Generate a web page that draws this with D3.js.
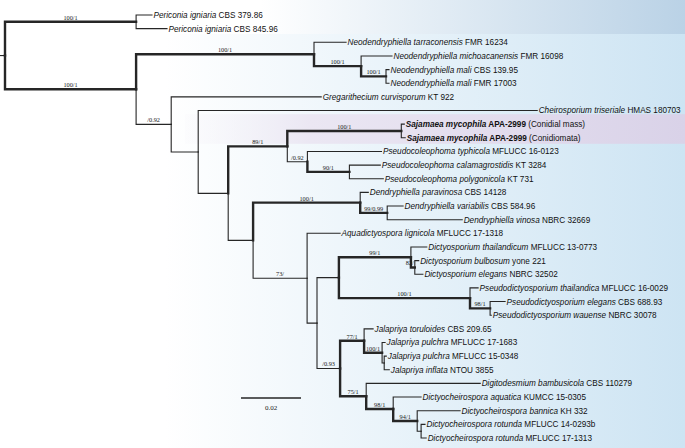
<!DOCTYPE html>
<html><head><meta charset="utf-8">
<script src="https://cdn.jsdelivr.net/npm/d3@7"></script>
<style>body{margin:0;background:#fff}svg{display:block}</style>
</head><body>
<svg id="chart" width="685" height="448"></svg>
<script>
// Topology: [id, parent, branch length (substitutions/site), support (ML/BI)]
const nodes = [
  ["root", "", 0, ""],
  ["nPer", "root", 0.0437, "100/1"],
  ["t1", "nPer", 0.0053, ""],
  ["t2", "nPer", 0.0103, ""],
  ["nMain", "root", 0.0437, "100/1"],
  ["nA", "nMain", 0.0593, "100/1"],
  ["t3", "nA", 0.0107, ""],
  ["nB", "nA", 0.0157, "100/1"],
  ["t4", "nB", 0.0103, ""],
  ["nC", "nB", 0.0083, "100/1"],
  ["t5", "nC", 0.0010, ""],
  ["t6", "nC", 0.0010, ""],
  ["nD", "nMain", 0.0117, "/0.92"],
  ["t7", "nD", 0.0500, ""],
  ["nE", "nD", 0.0090, ""],
  ["t8", "nE", 0.1130, ""],
  ["nF", "nE", 0.0100, ""],
  ["nG", "nF", 0.0197, "89/1"],
  ["nH", "nG", 0.0380, "100/1"],
  ["t9", "nH", 0.0010, ""],
  ["t10", "nH", 0.0013, ""],
  ["nI", "nG", 0.0067, "/0.92"],
  ["t11", "nI", 0.0247, ""],
  ["nJ", "nI", 0.0140, "90/1"],
  ["t12", "nJ", 0.0103, ""],
  ["t13", "nJ", 0.0113, ""],
  ["nK", "nF", 0.0083, ""],
  ["nL", "nK", 0.0357, "100/1"],
  ["t14", "nL", 0.0027, ""],
  ["nM", "nL", 0.0090, "99/0.99"],
  ["t15", "nM", 0.0053, ""],
  ["t16", "nM", 0.0250, ""],
  ["nN", "nK", 0.0180, "73/"],
  ["t17", "nN", 0.0110, ""],
  ["nO", "nN", 0.0033, ""],
  ["nP", "nO", 0.0073, ""],
  ["nQ", "nP", 0.0240, "99/1"],
  ["t18", "nQ", 0.0053, ""],
  ["nR", "nQ", 0.0013, "82/"],
  ["t19", "nR", 0.0013, ""],
  ["t20", "nR", 0.0027, ""],
  ["nS", "nP", 0.0437, "100/1"],
  ["t21", "nS", 0.0027, ""],
  ["nT", "nS", 0.0067, "98/1"],
  ["t22", "nT", 0.0050, ""],
  ["t23", "nT", 0.0004, ""],
  ["nU", "nO", 0.0077, "/0.93"],
  ["nV", "nU", 0.0080, "77/1"],
  ["t24", "nV", 0.0030, ""],
  ["nX", "nV", 0.0060, "100/1"],
  ["t25", "nX", 0.0010, ""],
  ["nY", "nX", 0.0007, ""],
  ["t26", "nY", 0.0007, ""],
  ["t27", "nY", 0.0017, ""],
  ["nW", "nU", 0.0087, "75/1"],
  ["t28", "nW", 0.0380, ""],
  ["nZ", "nW", 0.0090, "98/1"],
  ["t29", "nZ", 0.0093, ""],
  ["nAA", "nZ", 0.0080, "94/1"],
  ["t30", "nAA", 0.0143, ""],
  ["nAB", "nAA", 0.0013, ""],
  ["t31", "nAB", 0.0013, ""],
  ["t32", "nAB", 0.0017, ""]
];

// Tip labels (leaf order t1..t32)
const tipTaxa = [
  "Periconia igniaria", "Periconia igniaria",
  "Neodendryphiella tarraconensis", "Neodendryphiella michoacanensis",
  "Neodendryphiella mali", "Neodendryphiella mali",
  "Gregarithecium curvisporum", "Cheirosporium triseriale",
  "Sajamaea mycophila", "Sajamaea mycophila",
  "Pseudocoleophoma typhicola", "Pseudocoleophoma calamagrostidis",
  "Pseudocoleophoma polygonicola", "Dendryphiella paravinosa",
  "Dendryphiella variabilis", "Dendryphiella vinosa",
  "Aquadictyospora lignicola", "Dictyosporium thailandicum",
  "Dictyosporium bulbosum", "Dictyosporium elegans",
  "Pseudodictyosporium thailandica", "Pseudodictyosporium elegans",
  "Pseudodictyosporium wauense", "Jalapriya toruloides",
  "Jalapriya pulchra", "Jalapriya pulchra", "Jalapriya inflata",
  "Digitodesmium bambusicola", "Dictyocheirospora aquatica",
  "Dictyocheirospora bannica", "Dictyocheirospora rotunda",
  "Dictyocheirospora rotunda"
];
const tipStrains = [
  "CBS 379.86", "CBS 845.96", "FMR 16234", "FMR 16098", "CBS 139.95",
  "FMR 17003", "KT 922", "HMAS 180703", "APA-2999", "APA-2999",
  "MFLUCC 16-0123", "KT 3284", "KT 731", "CBS 14128", "CBS 584.96",
  "NBRC 32669", "MFLUCC 17-1318", "MFLUCC 13-0773", "yone 221",
  "NBRC 32502", "MFLUCC 16-0029", "CBS 688.93", "NBRC 30078",
  "CBS 209.65", "MFLUCC 17-1683", "MFLUCC 15-0348", "NTOU 3855",
  "CBS 110279", "KUMCC 15-0305", "KH 332", "MFLUCC 14-0293b",
  "MFLUCC 17-1313"
];
const tipNotes = ["", "", "", "", "", "", "", "", "(Conidial mass)", "(Conidiomata)",
  "", "", "", "", "", "", "", "", "", "", "", "", "", "", "", "", "", "", "", "", "", ""];
const newTaxa = ["Sajamaea mycophila"];
const scaleBarValue = 0.02;

const svg = d3.select("#chart");
const W = 685, H = 448;
const defs = svg.append("defs");

// backgrounds
const g1 = defs.append("linearGradient").attr("id", "bgTop").attr("x1", 0).attr("x2", 1).attr("y1", 0).attr("y2", 0);
g1.append("stop").attr("offset", "0%").attr("stop-color", "#ffffff");
g1.append("stop").attr("offset", "38%").attr("stop-color", "#ffffff");
g1.append("stop").attr("offset", "100%").attr("stop-color", "#bad2e6");
const g2 = defs.append("linearGradient").attr("id", "bgMain").attr("x1", 0).attr("x2", 1).attr("y1", 0).attr("y2", 0);
g2.append("stop").attr("offset", "0%").attr("stop-color", "#ffffff");
g2.append("stop").attr("offset", "24%").attr("stop-color", "#ffffff");
g2.append("stop").attr("offset", "100%").attr("stop-color", "#cde4f3");
const g3 = defs.append("linearGradient").attr("id", "bgNew").attr("x1", 0).attr("x2", 1).attr("y1", 0).attr("y2", 0);
g3.append("stop").attr("offset", "0%").attr("stop-color", "#f6f4f9").attr("stop-opacity", 0.2);
g3.append("stop").attr("offset", "25%").attr("stop-color", "#ebe7f3");
g3.append("stop").attr("offset", "100%").attr("stop-color", "#d9d2e8");

svg.append("rect").attr("x", 0).attr("y", 0).attr("width", W).attr("height", 34).attr("fill", "url(#bgTop)");
svg.append("rect").attr("x", 0).attr("y", 34).attr("width", W).attr("height", H - 34).attr("fill", "url(#bgMain)");

// hierarchy
const root = d3.stratify().id(d => d[0]).parentId(d => d[1] || null)(nodes);
root.eachBefore(n => { n.dist = n.parent ? n.parent.dist + n.data[2] : 0; });
const leaves = root.leaves();
const x = d3.scaleLinear().domain([0, scaleBarValue]).range([5, 65]);
const y = d3.scalePoint().domain(leaves.map(d => d.id)).range([15, 438]);
root.eachAfter(n => {
  if (!n.children) n.y = y(n.id);
  else n.y = (n.children[0].y + n.children[n.children.length - 1].y) / 2;
  n.x = x(n.dist);
});

// highlight band for new taxon
const newLeaves = leaves.filter(l => newTaxa.includes(tipTaxa[leaves.indexOf(l)]));
const bandTop = d3.min(newLeaves, l => l.y) - 10, bandBot = d3.max(newLeaves, l => l.y) + 6;
svg.append("rect").attr("x", 185).attr("y", bandTop).attr("width", W - 185).attr("height", bandBot - bandTop).attr("fill", "url(#bgNew)");

const strong = s => { const v = parseFloat(s.split("/")[0]); return !isNaN(v) && v >= 75; };
const links = root.links();
svg.append("g").selectAll("path").data(links).join("path")
  .attr("d", l => `M${l.source.x},${l.source.y}V${l.target.y}H${l.target.x}`)
  .attr("fill", "none").attr("stroke", "#262626")
  .attr("stroke-width", l => strong(l.target.data[3]) ? 2.4 : 1.1)
  .attr("stroke-linejoin", "miter").attr("stroke-linecap", "square");
// root stub
svg.append("line").attr("x1", 0).attr("x2", root.x).attr("y1", root.y).attr("y2", root.y)
  .attr("stroke", "#262626").attr("stroke-width", 1.1);

// support labels
svg.append("g").selectAll("text").data(links.filter(l => l.target.data[3])).join("text")
  .attr("x", l => {
    const mid = (l.source.x + l.target.x) / 2;
    return (l.target.x - l.source.x) < 10 ? l.target.x - 5 : mid;
  })
  .attr("y", l => l.target.y - 2)
  .attr("text-anchor", "middle")
  .attr("font-family", "'Liberation Serif', 'Times New Roman', serif")
  .attr("font-size", 6.3).attr("fill", "#222")
  .text(l => l.target.data[3]);

// tip labels
const tl = svg.append("g").selectAll("text").data(leaves).join("text")
  .attr("x", d => d.x + 1.5).attr("y", d => d.y).attr("dy", "0.36em")
  .attr("font-family", "'Liberation Sans', Arial, sans-serif")
  .attr("font-size", 8.2).attr("fill", "#111");
tl.each(function(d, i) {
  const t = d3.select(this);
  const isNew = newTaxa.includes(tipTaxa[i]);
  t.append("tspan").attr("font-style", "italic").attr("font-weight", isNew ? "bold" : null).text(tipTaxa[i]);
  t.append("tspan").attr("font-weight", isNew ? "bold" : null).text(" " + tipStrains[i]);
  if (tipNotes[i]) t.append("tspan").text(" " + tipNotes[i]);
});

// scale bar
const sb = svg.append("g").attr("transform", "translate(236,398)");
sb.append("line").attr("x1", x(0)).attr("x2", x(scaleBarValue)).attr("stroke", "#262626").attr("stroke-width", 1.4);
sb.append("text").attr("x", (x(0) + x(scaleBarValue)) / 2).attr("y", 12).attr("text-anchor", "middle")
  .attr("font-family", "'Liberation Serif', 'Times New Roman', serif").attr("font-size", 7).attr("fill", "#222")
  .text(scaleBarValue);
</script>
</body></html>
